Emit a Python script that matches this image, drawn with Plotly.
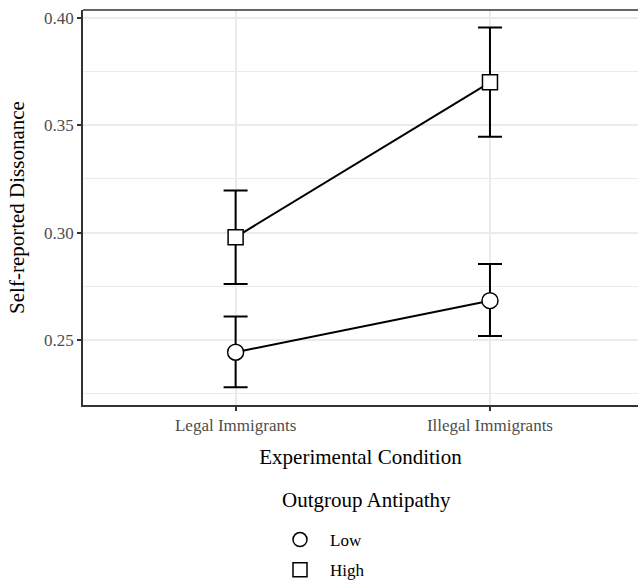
import plotly.graph_objects as go

conditions = ["Legal Immigrants", "Illegal Immigrants"]
groups = ["Low", "High"]
means = {"Low": [0.2443, 0.2683], "High": [0.2979, 0.3700]}
upper = {"Low": [0.2609, 0.2854], "High": [0.3196, 0.3955]}
lower = {"Low": [0.2280, 0.2519], "High": [0.2761, 0.3446]}
symbols = {"Low": "circle", "High": "square"}
sizes = {"Low": 16, "High": 15}
legend_title = "Outgroup Antipathy"

FONT = "Liberation Serif"
fig = go.Figure()
for g in groups:
    m = means[g]
    fig.add_trace(go.Scatter(
        x=conditions, y=m, mode="lines+markers", showlegend=False,
        line=dict(color="black", width=2),
        marker=dict(symbol=symbols[g], size=sizes[g], color="white",
                    line=dict(color="black", width=1.5)),
        error_y=dict(type="data", symmetric=False,
                     array=[u - v for u, v in zip(upper[g], m)],
                     arrayminus=[v - l for v, l in zip(m, lower[g])],
                     color="black", thickness=2, width=12),
    ))
for i, g in enumerate(groups):
    fig.add_trace(go.Scatter(
        x=[None], y=[None], mode="markers", name=g, legendgroup=g,
        marker=dict(symbol=symbols[g], size=14, color="white",
                    line=dict(color="black", width=1.5)),
    ))

fig.add_shape(type="line", xref="paper", yref="paper", x0=0, x1=1, y0=1, y1=1,
              line=dict(color="#333333", width=1.5))
fig.add_annotation(text=legend_title, xref="paper", yref="paper",
                   x=(280 - 83) / 555, xanchor="left", y=1 - (490 / 395), yanchor="middle",
                   showarrow=False, font=dict(size=21, family=FONT, color="black"))

fig.update_layout(
    width=638, height=583,
    margin=dict(l=83, r=0, t=10, b=178, autoexpand=False),
    paper_bgcolor="white", plot_bgcolor="white",
    font=dict(family=FONT, color="black"),
    legend=dict(
        orientation="v", x=(270 - 83) / 555, xanchor="left",
        y=1 - (512 / 395), yanchor="top",
        font=dict(size=17, family=FONT, color="black"),
        traceorder="grouped", tracegroupgap=5, itemwidth=50,
        bgcolor="rgba(0,0,0,0)",
    ),
    xaxis=dict(
        type="category", categoryorder="array", categoryarray=conditions,
        range=[-0.6, 1.582], automargin=False,
        showgrid=True, gridcolor="#EBEBEB", gridwidth=1.5,
        showline=True, linecolor="#333333", linewidth=1.5,
        ticks="outside", ticklen=4, tickcolor="#333333", tickwidth=1.5,
        tickfont=dict(size=17, family=FONT, color="#4D4D4D"),
        title=dict(text="Experimental Condition", standoff=15,
                   font=dict(size=21, family=FONT, color="black")),
        zeroline=False,
    ),
    yaxis=dict(
        range=[0.2197, 0.4037], automargin=False,
        tickvals=[0.25, 0.30, 0.35, 0.40],
        ticktext=["0.25", "0.30", "0.35", "0.40"],
        showgrid=True, gridcolor="#EBEBEB", gridwidth=1.5,
        minor=dict(tickvals=[0.225, 0.275, 0.325, 0.375], showgrid=True,
                   gridcolor="#EBEBEB", gridwidth=1, ticks=""),
        showline=True, linecolor="#333333", linewidth=1.5,
        ticks="outside", ticklen=4, tickcolor="#333333", tickwidth=1.5,
        tickfont=dict(size=17, family=FONT, color="#4D4D4D"),
        title=dict(text="Self-reported Dissonance", standoff=14,
                   font=dict(size=21, family=FONT, color="black")),
        zeroline=False,
    ),
)
fig.write_html("out.html")
